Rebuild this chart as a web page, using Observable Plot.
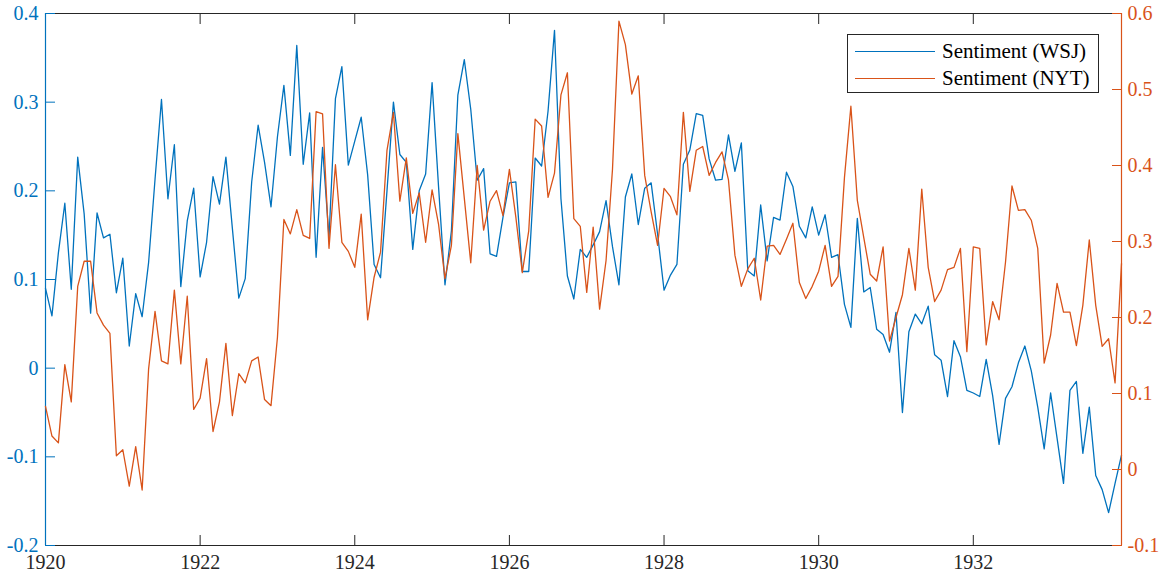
<!DOCTYPE html>
<html>
<head>
<meta charset="utf-8">
<script src="https://cdn.jsdelivr.net/npm/d3@7"></script>
<script src="https://cdn.jsdelivr.net/npm/@observablehq/plot@0.6"></script>
<style>
  html, body { margin: 0; padding: 0; background: #fff; }
  #wrap { position: relative; width: 1164px; height: 576px; overflow: hidden; }
  #wrap svg { position: absolute; left: 0; top: 0; }
  #legend { position: absolute; left: 847px; top: 34px; width: 252px; height: 59px; box-sizing: border-box;
            border: 1px solid #262626; background: #fff; font-family: "Liberation Serif", "Times New Roman", serif;
            font-size: 21px; color: #000; }
  .row { position: absolute; left: 0; height: 24px; display: flex; align-items: center; }
  .sw { width: 80px; height: 0; margin-left: 7px; margin-right: 7px; border-top-width: 1.4px; border-top-style: solid; }
</style>
</head>
<body>
<div id="wrap"></div>
<script>
// ---- Data (monthly, Jan 1920 – Dec 1933) ----
const startYear = 1920;
const seriesNames = ["Sentiment (WSJ)", "Sentiment (NYT)"];
const seriesColors = ["#0072BD", "#D95319"];

const wsj = [
  0.090, 0.059, 0.130, 0.186, 0.089, 0.238, 0.174, 0.062, 0.175, 0.147, 0.151, 0.085,
  0.124, 0.025, 0.084, 0.058, 0.119, 0.213, 0.303, 0.191, 0.252, 0.092, 0.166, 0.203,
  0.103, 0.142, 0.216, 0.185, 0.238, 0.158, 0.079, 0.101, 0.210, 0.274, 0.232, 0.182,
  0.261, 0.319, 0.240, 0.364, 0.230, 0.288, 0.125, 0.249, 0.147, 0.304, 0.340, 0.229,
  0.256, 0.283, 0.218, 0.117, 0.102, 0.200, 0.300, 0.241, 0.232, 0.134, 0.200, 0.219,
  0.322, 0.205, 0.094, 0.155, 0.308, 0.348, 0.292, 0.212, 0.225, 0.129, 0.126, 0.170,
  0.209, 0.210, 0.109, 0.109, 0.237, 0.228, 0.290, 0.381, 0.191, 0.104, 0.078, 0.134,
  0.125, 0.139, 0.154, 0.189, 0.137, 0.094, 0.193, 0.219, 0.162, 0.203, 0.209, 0.151,
  0.088, 0.105, 0.117, 0.230, 0.246, 0.287, 0.285, 0.236, 0.212, 0.213, 0.263, 0.222,
  0.254, 0.110, 0.104, 0.184, 0.121, 0.170, 0.167, 0.221, 0.205, 0.160, 0.147, 0.182,
  0.150, 0.173, 0.125, 0.128, 0.072, 0.046, 0.169, 0.086, 0.091, 0.044, 0.038, 0.018,
  0.063, -0.050, 0.041, 0.061, 0.050, 0.070, 0.015, 0.009, -0.032, 0.031, 0.013, -0.025,
  -0.028, -0.032, 0.010, -0.031, -0.086, -0.034, -0.021, 0.006, 0.025, -0.003, -0.044, -0.091,
  -0.028, -0.079, -0.130, -0.025, -0.015, -0.096, -0.044, -0.121, -0.137, -0.163, -0.130, -0.098
];

const nyt = [
  0.083, 0.044, 0.035, 0.138, 0.089, 0.241, 0.274, 0.274, 0.206, 0.190, 0.179, 0.018,
  0.026, -0.022, 0.030, -0.027, 0.132, 0.208, 0.143, 0.139, 0.236, 0.139, 0.228, 0.079,
  0.094, 0.146, 0.050, 0.089, 0.166, 0.071, 0.126, 0.114, 0.143, 0.148, 0.092, 0.084,
  0.174, 0.329, 0.310, 0.342, 0.308, 0.304, 0.471, 0.468, 0.291, 0.401, 0.299, 0.287,
  0.266, 0.336, 0.197, 0.253, 0.286, 0.420, 0.470, 0.353, 0.410, 0.337, 0.364, 0.299,
  0.368, 0.323, 0.251, 0.295, 0.442, 0.357, 0.272, 0.400, 0.315, 0.353, 0.367, 0.334,
  0.395, 0.332, 0.259, 0.314, 0.461, 0.452, 0.358, 0.390, 0.493, 0.522, 0.330, 0.320,
  0.233, 0.319, 0.211, 0.275, 0.395, 0.590, 0.559, 0.494, 0.518, 0.387, 0.339, 0.295,
  0.370, 0.359, 0.335, 0.470, 0.366, 0.420, 0.425, 0.387, 0.404, 0.418, 0.381, 0.282,
  0.241, 0.264, 0.278, 0.223, 0.294, 0.295, 0.283, 0.303, 0.324, 0.246, 0.225, 0.241,
  0.261, 0.295, 0.241, 0.254, 0.384, 0.478, 0.354, 0.305, 0.257, 0.248, 0.293, 0.169,
  0.200, 0.230, 0.291, 0.236, 0.369, 0.266, 0.221, 0.236, 0.263, 0.266, 0.291, 0.155,
  0.293, 0.291, 0.164, 0.221, 0.197, 0.273, 0.373, 0.341, 0.342, 0.328, 0.291, 0.140,
  0.177, 0.245, 0.207, 0.207, 0.163, 0.216, 0.302, 0.216, 0.162, 0.172, 0.114, 0.271
];

const xTicks = [1920, 1922, 1924, 1926, 1928, 1930, 1932];
const leftTicks = [-0.2, -0.1, 0, 0.1, 0.2, 0.3, 0.4];
const rightTicks = [-0.1, 0, 0.1, 0.2, 0.3, 0.4, 0.5, 0.6];

// ---- Build ----
const dates = wsj.map((_, i) => startYear + i / 12);
const rowsW = dates.map((t, i) => ({t, v: wsj[i]}));
const rowsN = dates.map((t, i) => ({t, v: nyt[i]}));
const xDomain = [dates[0], dates[dates.length - 1]];
const fmt = d => String(+d.toFixed(1));

const W = 1164, H = 576;
const common = {
  width: W, height: H,
  marginLeft: 45, marginRight: 43, marginTop: 13, marginBottom: 31,
  style: {background: "transparent", fontFamily: "'Liberation Serif', 'Times New Roman', serif", fontSize: "20px", overflow: "visible"}
};

const left = Plot.plot({
  ...common,
  x: {domain: xDomain, label: null},
  y: {domain: [leftTicks[0], leftTicks[leftTicks.length - 1]], label: null},
  marks: [
    Plot.ruleY([leftTicks[0], leftTicks[leftTicks.length - 1]], {stroke: "#262626", strokeWidth: 1}),
    Plot.axisX({anchor: "bottom", ticks: xTicks, tickFormat: d => String(d), tickSize: -10, tickPadding: 19, stroke: "#262626", fill: "#262626", label: null}),
    Plot.axisX({anchor: "top", ticks: xTicks, tickFormat: () => "", tickSize: -10, stroke: "#262626", label: null}),
    Plot.axisY({anchor: "left", ticks: leftTicks, tickFormat: fmt, tickSize: -10, tickPadding: 17, stroke: seriesColors[0], fill: seriesColors[0], label: null}),
    Plot.ruleX([xDomain[0]], {stroke: seriesColors[0], strokeWidth: 1.2}),
    Plot.lineY(rowsW, {x: "t", y: "v", stroke: seriesColors[0], strokeWidth: 1.3})
  ]
});

const right = Plot.plot({
  ...common,
  x: {domain: xDomain, axis: null, label: null},
  y: {domain: [rightTicks[0], rightTicks[rightTicks.length - 1]], label: null},
  marks: [
    Plot.axisY({anchor: "right", ticks: rightTicks, tickFormat: fmt, tickSize: -10, tickPadding: 16, stroke: seriesColors[1], fill: seriesColors[1], label: null}),
    Plot.ruleX([xDomain[1]], {stroke: seriesColors[1], strokeWidth: 1.2}),
    Plot.lineY(rowsN, {x: "t", y: "v", stroke: seriesColors[1], strokeWidth: 1.3})
  ]
});

const wrap = document.getElementById("wrap");
wrap.appendChild(left);
wrap.appendChild(right);

// Legend
const legend = document.createElement("div");
legend.id = "legend";
seriesNames.forEach((name, i) => {
  const row = document.createElement("div");
  row.className = "row";
  row.style.top = (i === 0 ? 4 : 31.5) + "px";
  const sw = document.createElement("div");
  sw.className = "sw";
  sw.style.borderTopColor = seriesColors[i];
  const tx = document.createElement("span");
  tx.textContent = name;
  row.appendChild(sw);
  row.appendChild(tx);
  legend.appendChild(row);
});
wrap.appendChild(legend);
</script>
</body>
</html>
